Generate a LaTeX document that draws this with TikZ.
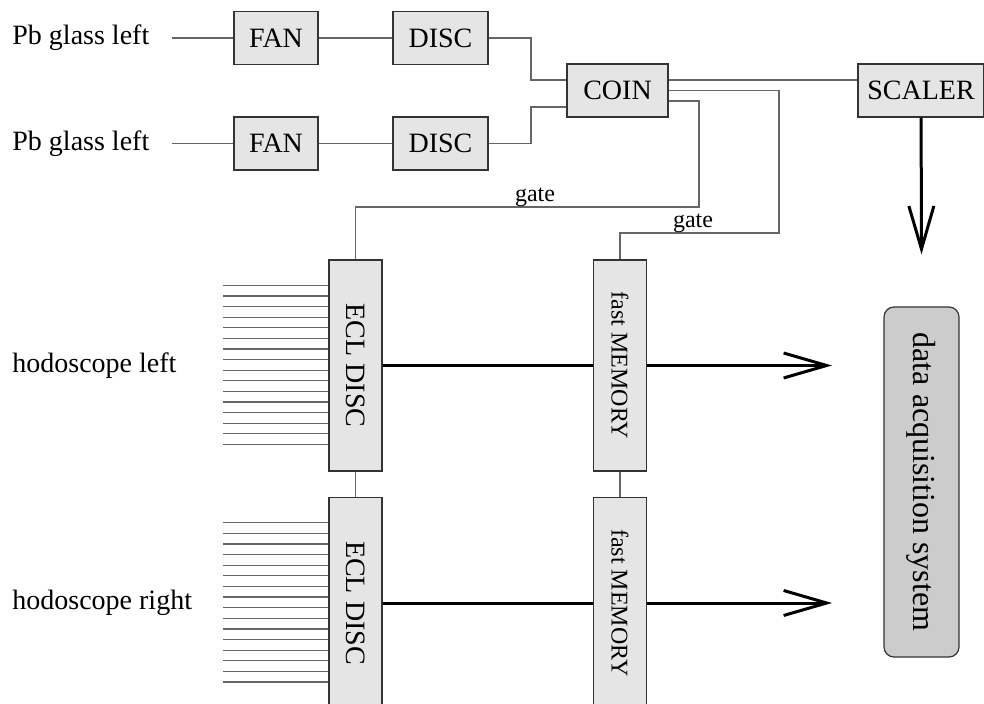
\documentclass[tikz,border=0pt]{standalone}
\usepackage{fontspec}
\setmainfont{Liberation Serif}
\usetikzlibrary{arrows.meta, positioning, calc}

\begin{document}
\begin{tikzpicture}[
    x=0.5pt, y=-0.5pt,
    unit/.style={draw=black!80, fill=black!10, line width=0.6pt, inner sep=0pt,
                 minimum height=26.5pt, font=\fontsize{14}{17}\selectfont},
    rack/.style={unit, minimum width=26.5pt, minimum height=105.5pt},
    memrack/.style={rack, font=\fontsize{12}{14}\selectfont},
    lbl/.style={anchor=west, inner sep=0pt, font=\fontsize{14}{17}\selectfont},
    gatelbl/.style={anchor=base, inner sep=0pt, font=\fontsize{12}{14}\selectfont},
    wire/.style={draw=black!60, line width=0.6pt},
    bus/.style={draw=black, line width=1.5pt},
    >={Straight Barb[length=21.5pt, width=12.5pt]},
]
\useasboundingbox (0,0) rectangle (984,704);

\node[lbl] (pb1) at (12,38)    {Pb glass left};
\node[lbl] (pb2) at (12,143.5) {Pb glass left};
\node[lbl] (hodl) at (12,365.5) {hodoscope left};
\node[lbl] (hodr) at (12,603)   {hodoscope right};

\node[unit, minimum width=42pt]   (fan1)  at (276,38)     {FAN};
\node[unit, minimum width=47.5pt] (disc1) at (440.5,38)   {DISC};
\node[unit, minimum width=42pt]   (fan2)  at (276,143.5)  {FAN};
\node[unit, minimum width=47.5pt] (disc2) at (440.5,143.5){DISC};
\node[unit, minimum width=50.5pt] (coin)  at (617.5,90.5) {COIN};
\node[unit, minimum width=63pt]   (scaler) at (921,90.5)  {SCALER};

\node[rack]    (ecl1) at (355.5,365.5) {\rotatebox{-90}{ECL DISC}};
\node[rack]    (ecl2) at (355.5,603)   {\rotatebox{-90}{ECL DISC}};
\node[memrack] (mem1) at (620,365.5)   {\rotatebox{-90}{fast MEMORY}};
\node[memrack] (mem2) at (620,603)     {\rotatebox{-90}{fast MEMORY}};

\node[unit, fill=black!20, rounded corners=5pt, minimum width=37.5pt,
      minimum height=175pt, font=\fontsize{16}{19}\selectfont]
      (daq) at (921.5,482) {\rotatebox{-90}{data acquisition system}};

\coordinate (in1) at (172,38);
\coordinate (in2) at (172,143.5);
\coordinate (toscaler) at ([yshift=26pt]daq.north);
\coordinate (todaq1) at (832,365.5);
\coordinate (todaq2) at (832,603);

\draw[wire] (in1) -- (fan1);
\draw[wire] (fan1) -- (disc1);
\draw[wire] (in2) -- (fan2);
\draw[wire] (fan2) -- (disc2);
\draw[wire] (disc1.east) -| (531,80) -- ([yshift=5.25pt]coin.west);
\draw[wire] (disc2.east) -| (531,107) -- ([yshift=-8.25pt]coin.west);
\draw[wire] ([yshift=5.25pt]coin.east) -- ([yshift=5.25pt]scaler.west);
\draw[wire] (coin.east) -| (779,233) -| (mem1.north);
\draw[wire] ([yshift=-5.25pt]coin.east) -| (699,207) -| (ecl1.north);
\node[gatelbl] (gate1) at (535,202) {gate};
\node[gatelbl] (gate2) at (693,228) {gate};

\draw[wire] (ecl1) -- (ecl2);
\draw[wire] (mem1) -- (mem2);
\foreach \k in {0,...,15} {
  \draw[wire] ([yshift=-13pt-5.3pt*\k]ecl1.north west) -- ++(-52.5pt,0);
  \draw[wire] ([yshift=-13pt-5.3pt*\k]ecl2.north west) -- ++(-52.5pt,0);
}

\draw[bus] (ecl1) -- (mem1);
\draw[bus] (ecl2) -- (mem2);
\draw[bus, ->] (mem1) -- (todaq1);
\draw[bus, ->] (mem2) -- (todaq2);
\draw[bus, ->] (scaler) -- (toscaler);
\end{tikzpicture}
\end{document}
